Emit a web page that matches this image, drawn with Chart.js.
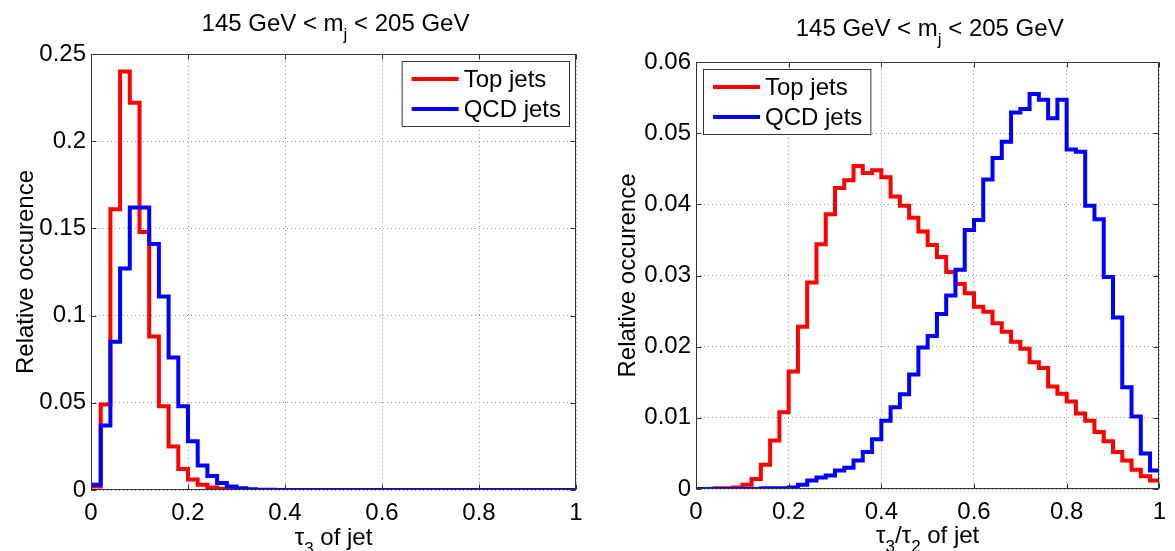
<!DOCTYPE html>
<html>
<head>
<meta charset="utf-8">
<script src="https://cdn.jsdelivr.net/npm/chart.js@4.4.1/dist/chart.umd.min.js"></script>
<style>
html, body { margin: 0; padding: 0; background: #fff; }
#wrap { position: relative; width: 1175px; height: 551px; overflow: hidden; }
#leftBox { position: absolute; left: 0; top: 0; width: 600px; height: 551px; }
#rightBox { position: absolute; left: 600px; top: 0; width: 575px; height: 551px; }
</style>
</head>
<body>
<div id="wrap">
	<div id="leftBox"><canvas id="tau3Chart"></canvas></div>
	<div id="rightBox"><canvas id="ratioChart"></canvas></div>
</div>

<script type="text/javascript">

// bin edges (50 bins of 0.02)
var binEdges = [0, 0.02, 0.04, 0.06, 0.08, 0.1, 0.12, 0.14, 0.16, 0.18,
	0.2, 0.22, 0.24, 0.26, 0.28, 0.3, 0.32, 0.34, 0.36, 0.38,
	0.4, 0.42, 0.44, 0.46, 0.48, 0.5, 0.52, 0.54, 0.56, 0.58,
	0.6, 0.62, 0.64, 0.66, 0.68, 0.7, 0.72, 0.74, 0.76, 0.78,
	0.8, 0.82, 0.84, 0.86, 0.88, 0.9, 0.92, 0.94, 0.96, 0.98, 1];

var seriesNames = ["Top jets", "QCD jets"];
var seriesColors = ["#ff0000", "#0000ff"];

// left panel: tau3
var topTau3 = [0.002, 0.049, 0.161, 0.240, 0.222, 0.148, 0.088, 0.048, 0.025, 0.012,
	0.006, 0.003, 0.0015, 0.0007, 0.0003, 0.0001, 0, 0, 0, 0,
	0, 0, 0, 0, 0, 0, 0, 0, 0, 0,
	0, 0, 0, 0, 0, 0, 0, 0, 0, 0,
	0, 0, 0, 0, 0, 0, 0, 0, 0, 0];
var qcdTau3 = [0.003, 0.037, 0.085, 0.127, 0.162, 0.162, 0.141, 0.111, 0.076, 0.048,
	0.028, 0.014, 0.008, 0.004, 0.002, 0.001, 0.0005, 0.0002, 0.0001, 0,
	0, 0, 0, 0, 0, 0, 0, 0, 0, 0,
	0, 0, 0, 0, 0, 0, 0, 0, 0, 0,
	0, 0, 0, 0, 0, 0, 0, 0, 0, 0];

// right panel: tau3/tau2
var topRatio = [0, 0, 0.0001, 0.0001, 0.0002, 0.0006, 0.0014, 0.0034, 0.0068, 0.0108,
	0.0165, 0.0228, 0.029, 0.0344, 0.0386, 0.0423, 0.0434, 0.0454, 0.0444, 0.0448,
	0.0438, 0.0411, 0.0398, 0.0381, 0.0362, 0.0343, 0.0326, 0.0305, 0.0288, 0.0275,
	0.0256, 0.0249, 0.0233, 0.0221, 0.0207, 0.0197, 0.0178, 0.017, 0.0144, 0.0134,
	0.0123, 0.0106, 0.0096, 0.008, 0.0067, 0.0052, 0.004, 0.0027, 0.0018, 0.0012];
var qcdRatio = [0, 0, 0, 0, 0, 0, 0, 0.0001, 0.0001, 0.0001,
	0.0002, 0.0006, 0.0012, 0.0016, 0.0019, 0.0026, 0.003, 0.004, 0.0052, 0.007,
	0.0096, 0.0115, 0.0133, 0.0161, 0.0199, 0.0215, 0.0246, 0.0272, 0.0308, 0.0364,
	0.0378, 0.0435, 0.0465, 0.0488, 0.0529, 0.0534, 0.0555, 0.0547, 0.0521, 0.0547,
	0.0477, 0.0474, 0.0398, 0.0379, 0.0298, 0.0241, 0.0143, 0.0102, 0.005, 0.0026];

var xTicks = [0, 0.2, 0.4, 0.6, 0.8, 1];
var tau3YTicks = [0, 0.05, 0.1, 0.15, 0.2, 0.25];
var ratioYTicks = [0, 0.01, 0.02, 0.03, 0.04, 0.05, 0.06];

var titleParts = [["145 GeV < m", 0], ["j", 1], [" < 205 GeV", 0]];
var yTitle = "Relative occurence";

var FONT = "'Liberation Sans', Arial, sans-serif";
var mainFont = "24px " + FONT;
var subFont = "17px " + FONT;

function stepPoints(vals) {
	var pts = [];
	for (var i = 0; i < vals.length; i++) pts.push({x: binEdges[i], y: vals[i]});
	pts.push({x: binEdges[vals.length], y: vals[vals.length - 1]});
	return pts;
}

function fmt(v) {
	return String(+v.toFixed(3));
}

function drawRich(ctx, parts, cx, y) {
	var w = 0;
	for (var i = 0; i < parts.length; i++) {
		ctx.font = parts[i][1] ? subFont : mainFont;
		w += ctx.measureText(parts[i][0]).width;
	}
	var x = cx - w / 2;
	ctx.textAlign = "left";
	ctx.textBaseline = "alphabetic";
	for (var i = 0; i < parts.length; i++) {
		ctx.font = parts[i][1] ? subFont : mainFont;
		ctx.fillText(parts[i][0], x, y + (parts[i][1] ? 9 : 0));
		x += ctx.measureText(parts[i][0]).width;
	}
}

var decor = {
	id: "decor",
	afterDraw: function(chart) {
		var o = chart.options.plugins.decor;
		var ctx = chart.ctx;
		var a = chart.chartArea;
		ctx.save();
		ctx.fillStyle = "#000";

		// titles
		drawRich(ctx, titleParts, (a.left + a.right) / 2 + 2, o.titleY);
		drawRich(ctx, o.xTitle, (a.left + a.right) / 2, o.xTitleY);
		ctx.save();
		ctx.translate(o.yTitleX, (a.top + a.bottom) / 2);
		ctx.rotate(-Math.PI / 2);
		ctx.font = mainFont;
		ctx.textAlign = "center";
		ctx.textBaseline = "alphabetic";
		ctx.fillText(yTitle, 0, 0);
		ctx.restore();

		// box and inward ticks
		ctx.strokeStyle = "#333";
		ctx.lineWidth = 1;
		var l = Math.round(a.left) + 0.5, r = Math.round(a.right) - 0.5;
		var t = Math.round(a.top) + 0.5, b = Math.round(a.bottom) - 0.5;
		ctx.strokeRect(l, t, r - l, b - t);
		ctx.beginPath();
		chart.scales.x.ticks.forEach(function(tk) {
			var px = Math.round(chart.scales.x.getPixelForValue(tk.value)) + 0.5;
			ctx.moveTo(px, b); ctx.lineTo(px, b - 5);
			ctx.moveTo(px, t); ctx.lineTo(px, t + 5);
		});
		chart.scales.y.ticks.forEach(function(tk) {
			var py = Math.round(chart.scales.y.getPixelForValue(tk.value)) + 0.5;
			ctx.moveTo(l, py); ctx.lineTo(l + 5, py);
			ctx.moveTo(r, py); ctx.lineTo(r - 5, py);
		});
		ctx.stroke();

		// legend box
		ctx.font = mainFont;
		var tw = 0;
		seriesNames.forEach(function(n) { tw = Math.max(tw, ctx.measureText(n).width); });
		var bw = 62 + tw + 8, bh = 65;
		var bx = o.legendSide === "right" ? Math.round(a.right) - 7 - bw : Math.round(a.left) + 7;
		var by = Math.round(a.top) + 7;
		ctx.fillStyle = "#fff";
		ctx.fillRect(bx, by, bw, bh);
		ctx.strokeStyle = "#333";
		ctx.strokeRect(bx + 0.5, by + 0.5, bw, bh);
		ctx.textAlign = "left";
		ctx.textBaseline = "middle";
		for (var i = 0; i < seriesNames.length; i++) {
			var ry = by + 18 + i * 30;
			ctx.strokeStyle = seriesColors[i];
			ctx.lineWidth = 4;
			ctx.beginPath();
			ctx.moveTo(bx + 10, ry);
			ctx.lineTo(bx + 57, ry);
			ctx.stroke();
			ctx.fillStyle = "#000";
			ctx.fillText(seriesNames[i], bx + 62, ry + 1);
		}
		ctx.restore();
	}
};

function makeChart(id, topVals, qcdVals, yTicks, box) {
	var yMax = yTicks[yTicks.length - 1];
	var ctx = document.getElementById(id).getContext("2d");
	return new Chart(ctx, {
		type: "line",
		data: {
			datasets: [{
				label: seriesNames[0],
				data: stepPoints(topVals),
				borderColor: seriesColors[0],
				borderWidth: 4,
				stepped: true,
				pointRadius: 0,
				fill: false,
				order: 2
			}, {
				label: seriesNames[1],
				data: stepPoints(qcdVals),
				borderColor: seriesColors[1],
				borderWidth: 4,
				stepped: true,
				pointRadius: 0,
				fill: false,
				order: 1
			}]
		},
		options: {
			responsive: true,
			maintainAspectRatio: false,
			animation: false,
			layout: { padding: { top: box.top, right: box.right, left: 0, bottom: 0 } },
			plugins: {
				legend: { display: false },
				tooltip: { enabled: false },
				decor: box.decor
			},
			scales: {
				x: {
					type: "linear",
					min: 0, max: 1,
					afterBuildTicks: function(s) { s.ticks = xTicks.map(function(v) { return {value: v}; }); },
					ticks: { font: { family: FONT, size: 24 }, color: "#000", padding: 9, maxRotation: 0, autoSkip: false, callback: fmt },
					grid: { color: "#9a9a9a", drawTicks: false },
					border: { display: false, dash: [1, 3] },
					afterFit: function(s) { s.height = box.xHeight; }
				},
				y: {
					min: 0, max: yMax,
					afterBuildTicks: function(s) { s.ticks = yTicks.map(function(v) { return {value: v}; }); },
					ticks: { font: { family: FONT, size: 24 }, color: "#000", padding: 5, autoSkip: false, callback: fmt },
					grid: { color: "#9a9a9a", drawTicks: false },
					border: { display: false, dash: [1, 3] },
					afterFit: function(s) { s.width = box.yWidth; }
				}
			}
		},
		plugins: [decor]
	});
}

makeChart("tau3Chart", topTau3, qcdTau3, tau3YTicks, {
	top: 54, right: 24, yWidth: 91, xHeight: 61,
	decor: { titleY: 31, xTitleY: 545, yTitleX: 33, legendSide: "right",
		xTitle: [["\u03c4", 0], ["3", 1], [" of jet", 0]] }
});

makeChart("ratioChart", topRatio, qcdRatio, ratioYTicks, {
	top: 62, right: 7, yWidth: 96, xHeight: 62,
	decor: { titleY: 36, xTitleY: 543, yTitleX: 35, legendSide: "left",
		xTitle: [["\u03c4", 0], ["3", 1], ["/\u03c4", 0], ["2", 1], [" of jet", 0]] }
});

</script>
</body>
</html>
